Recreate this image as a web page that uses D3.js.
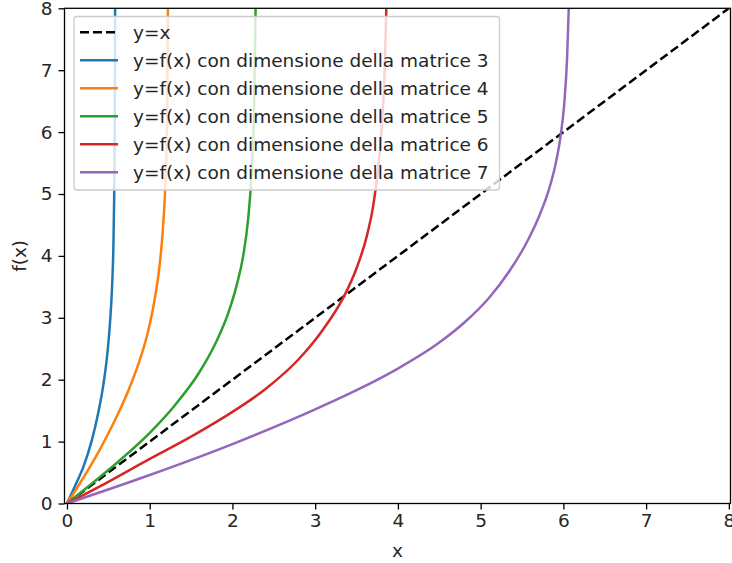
<!DOCTYPE html>
<html>
<head>
<meta charset="utf-8">
<script src="https://cdn.jsdelivr.net/npm/d3@7"></script>
<style>
body { margin: 0; background: #fff; }
svg { display: block; font-family: "DejaVu Sans", sans-serif; }
</style>
</head>
<body>
<svg id="chart"></svg>
<script>
var width = 732;
var height = 563;
var fontSize = 18.5;

// values
var xTicks = [0, 1, 2, 3, 4, 5, 6, 7, 8];
var yTicks = [0, 1, 2, 3, 4, 5, 6, 7, 8];
var identityX = [0, 8];
var identityY = [0, 8];

var dims = [3, 4, 5, 6, 7];
var colors = ["#1f77b4", "#ff7f0e", "#2ca02c", "#d62728", "#9467bd"];

var x3 = [0, 0.1, 0.2, 0.3, 0.38, 0.44, 0.49, 0.52, 0.545, 0.56, 0.57, 0.577, 0.582];
var y3 = [0, 0.29, 0.6, 1.02, 1.48, 1.92, 2.45, 2.92, 3.5, 4.1, 4.9, 6.0, 8.0];
var x4 = [0, 0.2, 0.4, 0.6, 0.75, 0.88, 0.98, 1.06, 1.12, 1.16, 1.19, 1.21, 1.22];
var y4 = [0, 0.42, 0.88, 1.4, 1.85, 2.32, 2.78, 3.3, 3.85, 4.45, 5.2, 6.3, 8.0];
var x5 = [0, 0.5, 1.0, 1.3, 1.6, 1.8, 1.95, 2.05, 2.13, 2.19, 2.23, 2.26, 2.28];
var y5 = [0, 0.54, 1.14, 1.58, 2.12, 2.6, 3.08, 3.52, 4.0, 4.6, 5.3, 6.3, 8.0];
var x6 = [0, 0.5, 1.0, 1.5, 2.0, 2.4, 2.8, 3.1, 3.35, 3.5, 3.62, 3.7, 3.76, 3.81, 3.84, 3.86];
var y6 = [0, 0.35, 0.72, 1.08, 1.48, 1.85, 2.33, 2.82, 3.35, 3.8, 4.3, 4.8, 5.4, 6.2, 7.0, 8.0];
var x7 = [0, 1, 2, 3, 3.5, 4, 4.5, 4.8, 5.1, 5.35, 5.55, 5.7, 5.82, 5.9, 5.96, 6.01, 6.045, 6.065];
var y7 = [0, 0.46, 0.96, 1.52, 1.83, 2.18, 2.6, 2.92, 3.32, 3.76, 4.2, 4.62, 5.05, 5.45, 5.88, 6.45, 7.2, 8.0];

var seriesX = [x3, x4, x5, x6, x7];
var seriesY = [y3, y4, y5, y6, y7];

var margin = {left: 64.5, right: 730.5, top: 8.3, bottom: 503.5};

var x = d3.scaleLinear().domain([-0.03, 8.02]).range([margin.left, margin.right]);
var y = d3.scaleLinear().domain([0, 8]).range([margin.bottom, margin.top]);

var svg = d3.select('#chart')
    .attr('width', width)
    .attr('height', height);

svg.append('defs').append('clipPath')
    .attr('id', 'plot-clip')
  .append('rect')
    .attr('x', margin.left)
    .attr('y', margin.top)
    .attr('width', margin.right - margin.left)
    .attr('height', margin.bottom - margin.top);

var plot = svg.append('g').attr('clip-path', 'url(#plot-clip)');

var line = d3.line()
    .x(d => x(d[0]))
    .y(d => y(d[1]))
    .curve(d3.curveMonotoneX);

// dashed y=x
plot.append('path')
    .datum(d3.zip(identityX, identityY))
    .attr('fill', 'none')
    .attr('stroke', 'black')
    .attr('stroke-width', 2.5)
    .attr('stroke-dasharray', '9,4')
    .attr('d', line);

for (let i = 0; i < dims.length; i++) {
    plot.append('path')
        .datum(d3.zip(seriesX[i], seriesY[i]))
        .attr('fill', 'none')
        .attr('stroke', colors[i])
        .attr('stroke-width', 2.5)
        .attr('d', line);
}

//AXES
var xAxis = svg.append('g')
    .attr('transform', `translate(0, ${margin.bottom})`)
    .call(d3.axisBottom(x).tickValues(xTicks).tickFormat(d3.format('d')).tickSize(6).tickPadding(4));
var yAxis = svg.append('g')
    .attr('transform', `translate(${margin.left}, 0)`)
    .call(d3.axisLeft(y).tickValues(yTicks).tickFormat(d3.format('d')).tickSize(6).tickPadding(6));

[xAxis, yAxis].forEach(function(a) {
    a.select('.domain').remove();
    a.selectAll('line').attr('stroke', 'black').attr('stroke-width', 1.3);
    a.selectAll('text').attr('font-size', fontSize).attr('fill', '#262626').attr('font-family', 'DejaVu Sans');
});

// frame
svg.append('rect')
    .attr('x', margin.left)
    .attr('y', margin.top)
    .attr('width', margin.right - margin.left)
    .attr('height', margin.bottom - margin.top)
    .attr('fill', 'none')
    .attr('stroke', 'black')
    .attr('stroke-width', 1.3);

svg.append('text')
    .attr('x', (margin.left + margin.right) / 2)
    .attr('y', 557)
    .attr('text-anchor', 'middle')
    .attr('font-size', fontSize)
    .attr('fill', '#262626')
    .text('x');

svg.append('text')
    .attr('transform', `translate(26, ${(margin.top + margin.bottom) / 2}) rotate(-90)`)
    .attr('text-anchor', 'middle')
    .attr('font-size', fontSize)
    .attr('fill', '#262626')
    .text('f(x)');

//LEGEND
var legendLabels = ['y=x'].concat(dims.map(d => 'y=f(x) con dimensione della matrice ' + d));
var legendColors = ['black'].concat(colors);
var legend = svg.append('g');
legend.append('rect')
    .attr('x', 74)
    .attr('y', 16.5)
    .attr('width', 425.5)
    .attr('height', 173.5)
    .attr('rx', 3)
    .attr('fill', 'white')
    .attr('fill-opacity', 0.8)
    .attr('stroke', '#cccccc')
    .attr('stroke-width', 1.3);

var entries = legend.selectAll('.entry')
    .data(legendLabels)
    .enter()
    .append('g')
    .classed('entry', true)
    .attr('transform', (d, i) => `translate(0, ${32.3 + i * 28})`);

entries.append('line')
    .attr('x1', 80)
    .attr('x2', 118)
    .attr('stroke', (d, i) => legendColors[i])
    .attr('stroke-width', 2.5)
    .attr('stroke-dasharray', (d, i) => i === 0 ? '9,4' : null);

entries.append('text')
    .attr('x', 133)
    .attr('dy', '0.35em')
    .attr('font-size', fontSize)
    .attr('fill', '#262626')
    .text(d => d);
</script>
</body>
</html>
